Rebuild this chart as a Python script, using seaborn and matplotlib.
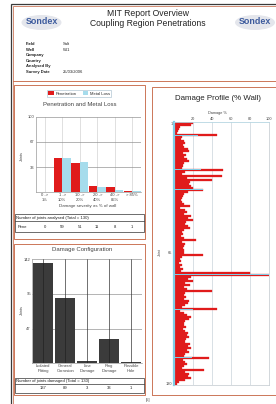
import matplotlib
matplotlib.use("Agg")
import matplotlib.pyplot as plt
import matplotlib.transforms as mtransforms
from matplotlib.patches import Rectangle, Ellipse
from matplotlib.lines import Line2D
import seaborn as sns
import pandas as pd
import numpy as np

# ---------------- data ----------------
pen_categories = ["0 ->\n1%", "1 ->\n10%", "10 ->\n20%", "20 ->\n40%", "40 ->\n85%", "> 85%"]
pen_counts = [0, 59, 51, 11, 8, 1]
metal_loss_pct = [0, 45, 39.5, 7, 3, 1]
joints_total = 130
pen_ticks = [33, 67, 100]

config_categories = ["Isolated\nPitting", "General\nCorrosion", "Line\nDamage", "Ring\nDamage", "Possible\nHole"]
config_counts = [137, 89, 3, 33, 1]
config_ticks = [47, 95, 142]

profile_joints = list(range(1, 131))
profile_penetration = [
    20, 18, 6, 5, 4, 3, 45, 8, 7, 11,
    12, 9, 10, 15, 16, 9, 13, 11, 14, 16,
    10, 9, 8, 52, 12, 8, 50, 14, 40, 17,
    16, 18, 20, 30, 15, 10, 9, 8, 7, 8,
    10, 17, 6, 12, 14, 11, 18, 15, 20, 13,
    12, 15, 17, 10, 8, 9, 7, 10, 23, 8,
    12, 10, 9, 11, 10, 30, 8, 6, 7, 5,
    8, 6, 9, 7, 80, 100, 18, 15, 20, 12,
    17, 10, 14, 40, 12, 10, 13, 11, 16, 15,
    12, 8, 45, 6, 10, 14, 18, 16, 12, 10,
    11, 13, 9, 12, 15, 14, 16, 13, 12, 17,
    15, 18, 14, 16, 12, 10, 37, 9, 12, 14,
    10, 8, 32, 12, 16, 15, 18, 12, 5, 3,
]
profile_ml_joints = [7, 24, 34, 76, 93, 117]
profile_ml_values = [25, 28, 30, 100, 20, 19]
profile_xticks = [20, 40, 60, 80, 100]
profile_yticks = [1, 65, 130]

info_labels = ["Field", "Well", "Company", "Country", "Analysed By", "Survey Date"]
info_values = ["Salt", "W-1", "", "", "", "25/03/2006"]

# ---------------- style ----------------
W, H = 276, 404
RED = "#e01b1b"
BLUE = "#a6dcec"
BLUE_EDGE = "#7fcde6"
FRAME = "#c4603e"
BAR_DARK = "#3b3b3b"

sns.set_theme(style="white")
plt.rcParams["font.family"] = ["Liberation Sans", "DejaVu Sans"]

fig = plt.figure(figsize=(W / 100, H / 100), dpi=100)
fig.patch.set_facecolor("white")


def fx(x):
    return x / W


def fy(y):
    return 1 - y / H


def rect(l, t, r, b):
    return [l / W, 1 - b / H, (r - l) / W, (b - t) / H]


def box(l, t, r, b, color, lw):
    fig.add_artist(Rectangle((l / W, 1 - b / H), (r - l) / W, (b - t) / H,
                             transform=fig.transFigure, fill=False,
                             edgecolor=color, lw=lw))


def hline(x0, x1, y, color, lw):
    fig.add_artist(Line2D([x0 / W, x1 / W], [fy(y), fy(y)],
                          transform=fig.transFigure, color=color, lw=lw))


def txt(x, y, s, **kw):
    fig.text(fx(x), fy(y), s, **kw)


# page frame
box(11.2, 3.8, 300, 430, "#3a3a3a", 0.9)
box(13.4, 6.0, 300, 430, FRAME, 0.5)
hline(13.4, 276, 80.5, FRAME, 0.6)

# header
for cx in (41.5, 255):
    fig.add_artist(Ellipse((fx(cx), fy(22.5)), 40 / W, 15 / H,
                           transform=fig.transFigure, facecolor="#e4e6ec",
                           edgecolor="none"))
    txt(cx, 22, "Sondex", ha="center", va="center", fontsize=6.4,
        fontweight="bold", color="#3e5c9e")
txt(148, 13.5, "MIT Report Overview", ha="center", va="center", fontsize=6.2, color="#222")
txt(148, 24, "Coupling Region Penetrations", ha="center", va="center", fontsize=6.2, color="#222")

for i, (lab, val) in enumerate(zip(info_labels, info_values)):
    y = 44 + i * 5.6
    txt(26, y, lab, ha="left", va="center", fontsize=3.0, fontweight="bold", color="#222")
    txt(63, y, val, ha="left", va="center", fontsize=3.0, color="#222")

# ---------------- Penetration and Metal Loss ----------------
box(13.5, 85, 145, 238.5, FRAME, 0.6)
axp = fig.add_axes(rect(36, 117, 141, 192))
pen_pct = [c / joints_total * 100 for c in pen_counts]
dfp = pd.DataFrame({
    "cat": pen_categories * 2,
    "series": ["Penetration"] * len(pen_categories) + ["Metal Loss"] * len(pen_categories),
    "val": pen_pct + metal_loss_pct,
})
sns.barplot(data=dfp, x="cat", y="val", hue="series", order=pen_categories,
            hue_order=["Penetration", "Metal Loss"], palette=[RED, BLUE],
            width=0.96, gap=0, errorbar=None, saturation=1, linewidth=0, ax=axp)
handles, labels = axp.get_legend_handles_labels()
if axp.get_legend() is not None:
    axp.get_legend().remove()
leg = fig.legend(handles, labels, loc="center", bbox_to_anchor=(fx(79), fy(93.5)),
                 ncol=2, fontsize=3, frameon=True, fancybox=False, handlelength=1.3,
                 handleheight=0.9, handletextpad=0.4, columnspacing=1.5,
                 borderpad=0.35, edgecolor="#9fb8c8")
leg.get_frame().set_linewidth(0.5)
axp.set_ylim(0, 100)
axp.set_yticks(pen_ticks)
axp.set_yticklabels([str(t) for t in pen_ticks])
axp.set_xlabel("")
axp.set_ylabel("")
axp.tick_params(axis="both", labelsize=3, length=0, pad=1, colors="#444")
axp.set_axisbelow(True)
axp.yaxis.grid(True, color="#8a8a8a", lw=0.45)
axp.xaxis.grid(True, color="#cfcfcf", lw=0.45)
for s in ["top", "right"]:
    axp.spines[s].set_visible(False)
for s in ["left", "bottom"]:
    axp.spines[s].set_color("#9a9a9a")
    axp.spines[s].set_linewidth(0.5)
txt(80, 105, "Penetration and Metal Loss", ha="center", va="center", fontsize=4.3, color="#444")
txt(21.5, 156, "Joints", ha="center", va="center", rotation=90, fontsize=2.8, color="#444")
txt(88, 206.5, "Damage severity as % of wall", ha="center", va="center", fontsize=3.2, color="#444")

box(14.5, 214.5, 144, 232.5, "#333", 0.5)
hline(14.5, 144, 220.8, "#333", 0.5)
txt(16, 217.7, "Number of joints analysed (Total = %d)" % joints_total,
    ha="left", va="center", fontsize=3.1, color="#222")
tp = mtransforms.blended_transform_factory(axp.transData, fig.transFigure)
txt(18, 227.5, "Pene", ha="left", va="center", fontsize=3.0, color="#222")
for i, c in enumerate(pen_counts):
    fig.text(i, fy(227.5), str(c), transform=tp, ha="center", va="center",
             fontsize=3.0, color="#222")

# ---------------- Damage Configuration ----------------
box(13.5, 243.5, 145, 394.5, FRAME, 0.6)
axc = fig.add_axes(rect(32.3, 259, 142, 363))
dfc = pd.DataFrame({"cat": config_categories, "count": config_counts})
sns.barplot(data=dfc, x="cat", y="count", order=config_categories, color=BAR_DARK,
            width=0.9, errorbar=None, saturation=1, linewidth=0, ax=axc)
axc.set_ylim(0, config_ticks[-1] + 0.5)
axc.set_yticks(config_ticks)
axc.set_yticklabels([str(t) for t in config_ticks])
axc.set_xlabel("")
axc.set_ylabel("")
axc.tick_params(axis="both", labelsize=3, length=0, pad=1, colors="#444")
axc.set_axisbelow(True)
axc.yaxis.grid(True, color="#8a8a8a", lw=0.45)
axc.xaxis.grid(True, color="#cfcfcf", lw=0.45)
for xt in axc.get_xticks():
    axc.axvline(xt, color="#1c1c1c", lw=0.4, zorder=3)
for s in ["top", "right"]:
    axc.spines[s].set_visible(False)
for s in ["left", "bottom"]:
    axc.spines[s].set_color("#9a9a9a")
    axc.spines[s].set_linewidth(0.5)
txt(82, 250, "Damage Configuration", ha="center", va="center", fontsize=4.3, color="#444")
txt(21.5, 310, "Joints", ha="center", va="center", rotation=90, fontsize=2.8, color="#444")

box(14.5, 378, 144, 392.5, "#333", 0.5)
hline(14.5, 144, 383.5, "#333", 0.5)
txt(16, 380.7, "Number of joints damaged (Total = %d)" % joints_total,
    ha="left", va="center", fontsize=3.1, color="#222")
tc = mtransforms.blended_transform_factory(axc.transData, fig.transFigure)
for i, c in enumerate(config_counts):
    fig.text(i, fy(387.8), str(c), transform=tc, ha="center", va="center",
             fontsize=3.0, color="#222")

# ---------------- Damage Profile ----------------
box(151.5, 86.5, 300, 395, FRAME, 0.6)
axd = fig.add_axes(rect(174, 122, 269, 385))
dfr = pd.DataFrame({"joint": profile_joints, "pen": profile_penetration})
sns.barplot(data=dfr, x="pen", y="joint", orient="y", native_scale=True, color=RED,
            width=1.0, errorbar=None, saturation=1, linewidth=0.2, edgecolor=RED, ax=axd)
dfm = pd.DataFrame({"joint": profile_ml_joints, "ml": profile_ml_values})
ml_width = 0.45 / np.min(np.diff(sorted(profile_ml_joints)))
sns.barplot(data=dfm, x="ml", y="joint", orient="y", native_scale=True, color=BLUE_EDGE,
            width=ml_width, errorbar=None, saturation=1, linewidth=0, ax=axd)
axd.set_xlim(0, 100)
axd.set_ylim(profile_joints[-1] + 0.5, profile_joints[0] - 0.5)
axd.xaxis.tick_top()
axd.set_xticks(profile_xticks)
axd.set_xticklabels([str(t) for t in profile_xticks])
axd.set_yticks(profile_yticks)
axd.set_yticklabels([str(t) for t in profile_yticks])
axd.set_xlabel("")
axd.set_ylabel("")
axd.tick_params(axis="both", labelsize=2.8, length=0, pad=1, colors="#444")
axd.set_axisbelow(True)
axd.xaxis.grid(True, color="#c9d3da", lw=0.5)
axd.spines["left"].set_color(BLUE_EDGE)
axd.spines["left"].set_linewidth(1.6)
axd.spines["top"].set_color("#b5d6e2")
axd.spines["top"].set_linewidth(0.6)
axd.spines["right"].set_color("#c0c8ce")
axd.spines["right"].set_linewidth(0.5)
axd.spines["bottom"].set_color("#c0c8ce")
axd.spines["bottom"].set_linewidth(0.5)
txt(218, 99, "Damage Profile (% Wall)", ha="center", va="center", fontsize=5.7, color="#222")
txt(217, 113, "Damage %", ha="center", va="center", fontsize=2.8, color="#444")
txt(160, 252, "Joint", ha="center", va="center", rotation=90, fontsize=2.6, color="#444")

txt(148, 399.5, "[5]", ha="center", va="center", fontsize=3.0, color="#444")

fig.savefig("out.png", dpi=100, facecolor="white")
